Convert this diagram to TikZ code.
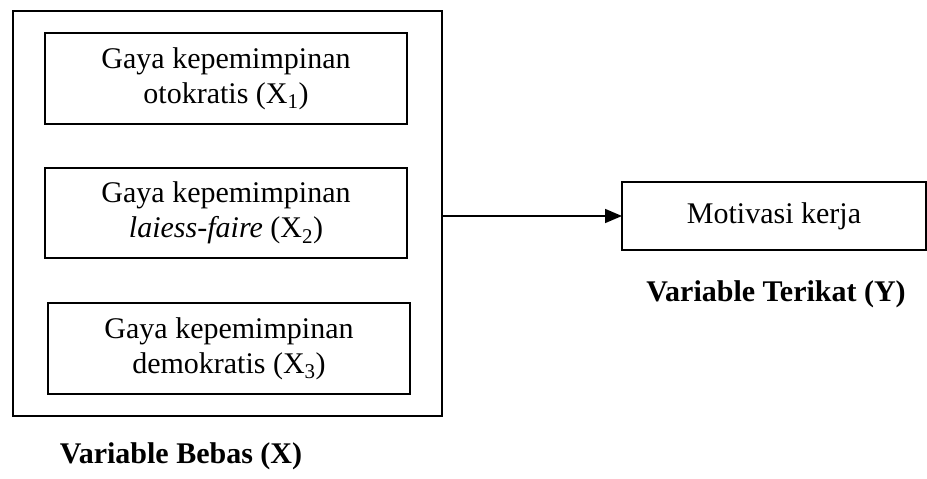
\documentclass[tikz,border=0pt]{standalone}
\usepackage{fontspec}
\setmainfont{Liberation Serif}
\usetikzlibrary{arrows.meta}
\tikzset{
	kotak/.style={draw, line width=1.4pt, inner sep=0pt, outer sep=0pt, align=center, font=\fontsize{30}{35}\selectfont},
	judul/.style={font=\fontsize{30}{35}\selectfont\bfseries},
	panah/.style={line width=1.6pt, -{Triangle[length=17pt,width=14pt]}}
}
\begin{document}
\begin{tikzpicture}[x=1pt,y=-1pt]
		\useasboundingbox (0,0) rectangle (927,479);
		% variabel bebas
		\node[kotak, minimum width=429, minimum height=405] (bebas) at (227.5,213.5) {};
		\node[kotak, minimum width=362, minimum height=91] (otokratis) at (226,78.5) {Gaya kepemimpinan\\otokratis (X\textsubscript{1})};
		\node[kotak, minimum width=362, minimum height=90] (laissez) at (226,213) {Gaya kepemimpinan\\\textit{laiess-faire} (X\textsubscript{2})};
		\node[kotak, minimum width=362, minimum height=91] (demokratis) at (229,348.5) {Gaya kepemimpinan\\demokratis (X\textsubscript{3})};
		\node[judul] (labelX) at (181,456) {Variable Bebas (X)};
		% variabel terikat
		\node[kotak, minimum width=304, minimum height=68] (motivasi) at (774,216) {Motivasi kerja};
		\node[judul] (labelY) at (776,294) {Variable Terikat (Y)};
		\draw[panah] (motivasi.west -| bebas.east) -- (motivasi.west);
	\end{tikzpicture}
\end{document}
